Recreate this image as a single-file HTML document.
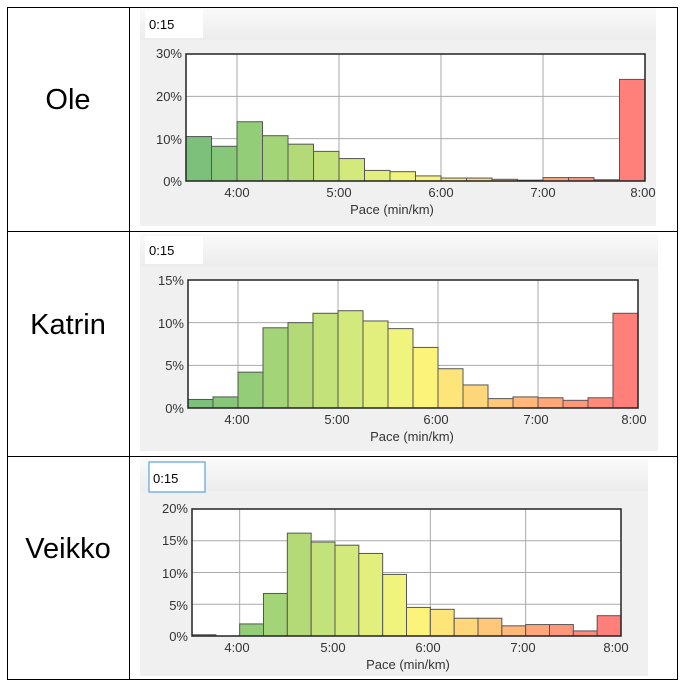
<!DOCTYPE html>
<html><head><meta charset="utf-8"><style>
body{margin:0;background:#fff;width:685px;height:685px;overflow:hidden}
svg{position:absolute;left:0;top:0}
text{font-family:"Liberation Sans",sans-serif}
</style></head><body>
<svg id="s" width="685" height="685" xmlns="http://www.w3.org/2000/svg">
<defs><linearGradient id="hd" x1="0" y1="0" x2="0" y2="1"><stop offset="0" stop-color="#fafafa"/><stop offset="1" stop-color="#ececec"/></linearGradient></defs>
<rect x="140" y="8" width="516" height="218" fill="#f0f0f0"/>
<rect x="140" y="8" width="516" height="32" fill="url(#hd)"/>
<rect x="145" y="10" width="58" height="28" fill="#fff"/>
<rect x="140" y="234" width="518" height="217" fill="#f0f0f0"/>
<rect x="140" y="234" width="518" height="32" fill="url(#hd)"/>
<rect x="145" y="236" width="58" height="28" fill="#fff"/>
<rect x="140" y="459" width="508" height="217" fill="#f0f0f0"/>
<rect x="140" y="459" width="508" height="32" fill="url(#hd)"/>
<rect x="149" y="462" width="56" height="30" fill="#fff" stroke="#5aa0e6" stroke-width="1.2"/>
<g id="charts"></g>
<g stroke="#000" stroke-width="1" fill="none">
<rect x="7.5" y="7.5" width="670" height="672"/>
<line x1="129.5" y1="7" x2="129.5" y2="680"/>
<line x1="7" y1="231.5" x2="678" y2="231.5"/>
<line x1="7" y1="456.5" x2="678" y2="456.5"/>
</g>
<g font-size="29" text-anchor="middle" fill="#000">
<text x="68" y="109">Ole</text>
<text x="68" y="334">Katrin</text>
<text x="68" y="558">Veikko</text>
</g>
<g font-size="13" fill="#000">
<text x="149" y="29">0:15</text>
<text x="149" y="255">0:15</text>
<text x="153" y="483">0:15</text>
</g>
<g font-size="13" fill="#333" text-anchor="end">
<text x="182" y="58">30%</text><text x="182" y="101">20%</text><text x="182" y="144">10%</text><text x="182" y="186">0%</text>
<text x="184" y="285">15%</text><text x="184" y="328">10%</text><text x="184" y="370">5%</text><text x="184" y="413">0%</text>
<text x="188" y="513">20%</text><text x="188" y="545">15%</text><text x="188" y="578">10%</text><text x="188" y="610">5%</text><text x="188" y="641">0%</text>
</g>
<g font-size="13" fill="#333" text-anchor="middle">
<text x="237" y="197">4:00</text><text x="339" y="197">5:00</text><text x="441" y="197">6:00</text><text x="543" y="197">7:00</text><text x="643" y="197">8:00</text>
<text x="392" y="214">Pace (min/km)</text>
<text x="237" y="424">4:00</text><text x="337" y="424">5:00</text><text x="436" y="424">6:00</text><text x="536" y="424">7:00</text><text x="634" y="424">8:00</text>
<text x="412" y="441">Pace (min/km)</text>
<text x="237" y="652">4:00</text><text x="333" y="652">5:00</text><text x="428" y="652">6:00</text><text x="523" y="652">7:00</text><text x="616" y="652">8:00</text>
<text x="408" y="669">Pace (min/km)</text>
</g>
</svg>
<script>
var charts=[
 {x0:186,x1:645,y0:54,y1:181,max:30,step:10,v:[10.5,8.2,14,10.7,8.7,7,5.3,2.5,2.2,1.2,0.7,0.7,0.4,0.2,0.8,0.8,0.3,24]},
 {x0:188,x1:638,y0:280,y1:408,max:15,step:5,v:[1,1.3,4.2,9.4,10,11.1,11.4,10.2,9.3,7.1,4.6,2.7,1.1,1.3,1.2,0.9,1.2,11.1]},
 {x0:192,x1:621,y0:509,y1:636,max:20,step:5,v:[0.2,0,1.9,6.7,16.2,14.8,14.3,13,9.7,4.5,4.2,2.8,2.8,1.6,1.8,1.8,0.8,3.2]}
];
var cols=["#7cc07c","#86c77a","#94cd78","#a3d477","#b4da78","#c4e27a","#d3e97b","#e3ef7c","#f1f47c","#fbf37a","#fde57a","#ffd67a","#ffc77a","#ffb77a","#ffa77a","#ff987a","#ff897a","#ff7f7a"];
var g=document.getElementById("charts"),h="";
charts.forEach(function(c){
 var W=c.x1-c.x0,H=c.y1-c.y0;
 h+='<rect x="'+c.x0+'" y="'+c.y0+'" width="'+W+'" height="'+H+'" fill="#fff"/>';
 for(var t=c.step;t<c.max;t+=c.step){var y=c.y1-H*t/c.max;h+='<line x1="'+c.x0+'" x2="'+c.x1+'" y1="'+y+'" y2="'+y+'" stroke="#aaa"/>';}
 for(var k=1;k<=4;k++){var x=c.x0+W*(k*2-1)/9;h+='<line x1="'+x+'" x2="'+x+'" y1="'+c.y0+'" y2="'+c.y1+'" stroke="#aaa"/>';}
 var bw=W/18;
 c.v.forEach(function(v,i){var bh=H*v/c.max;if(bh<=0)return;h+='<rect x="'+(c.x0+i*bw)+'" y="'+(c.y1-bh)+'" width="'+bw+'" height="'+bh+'" fill="'+cols[i]+'" stroke="#555" stroke-width="1"/>';});
 h+='<rect x="'+c.x0+'" y="'+c.y0+'" width="'+W+'" height="'+H+'" fill="none" stroke="#222" stroke-width="1.5"/>';
});
g.innerHTML=h;
</script>
</body></html>
